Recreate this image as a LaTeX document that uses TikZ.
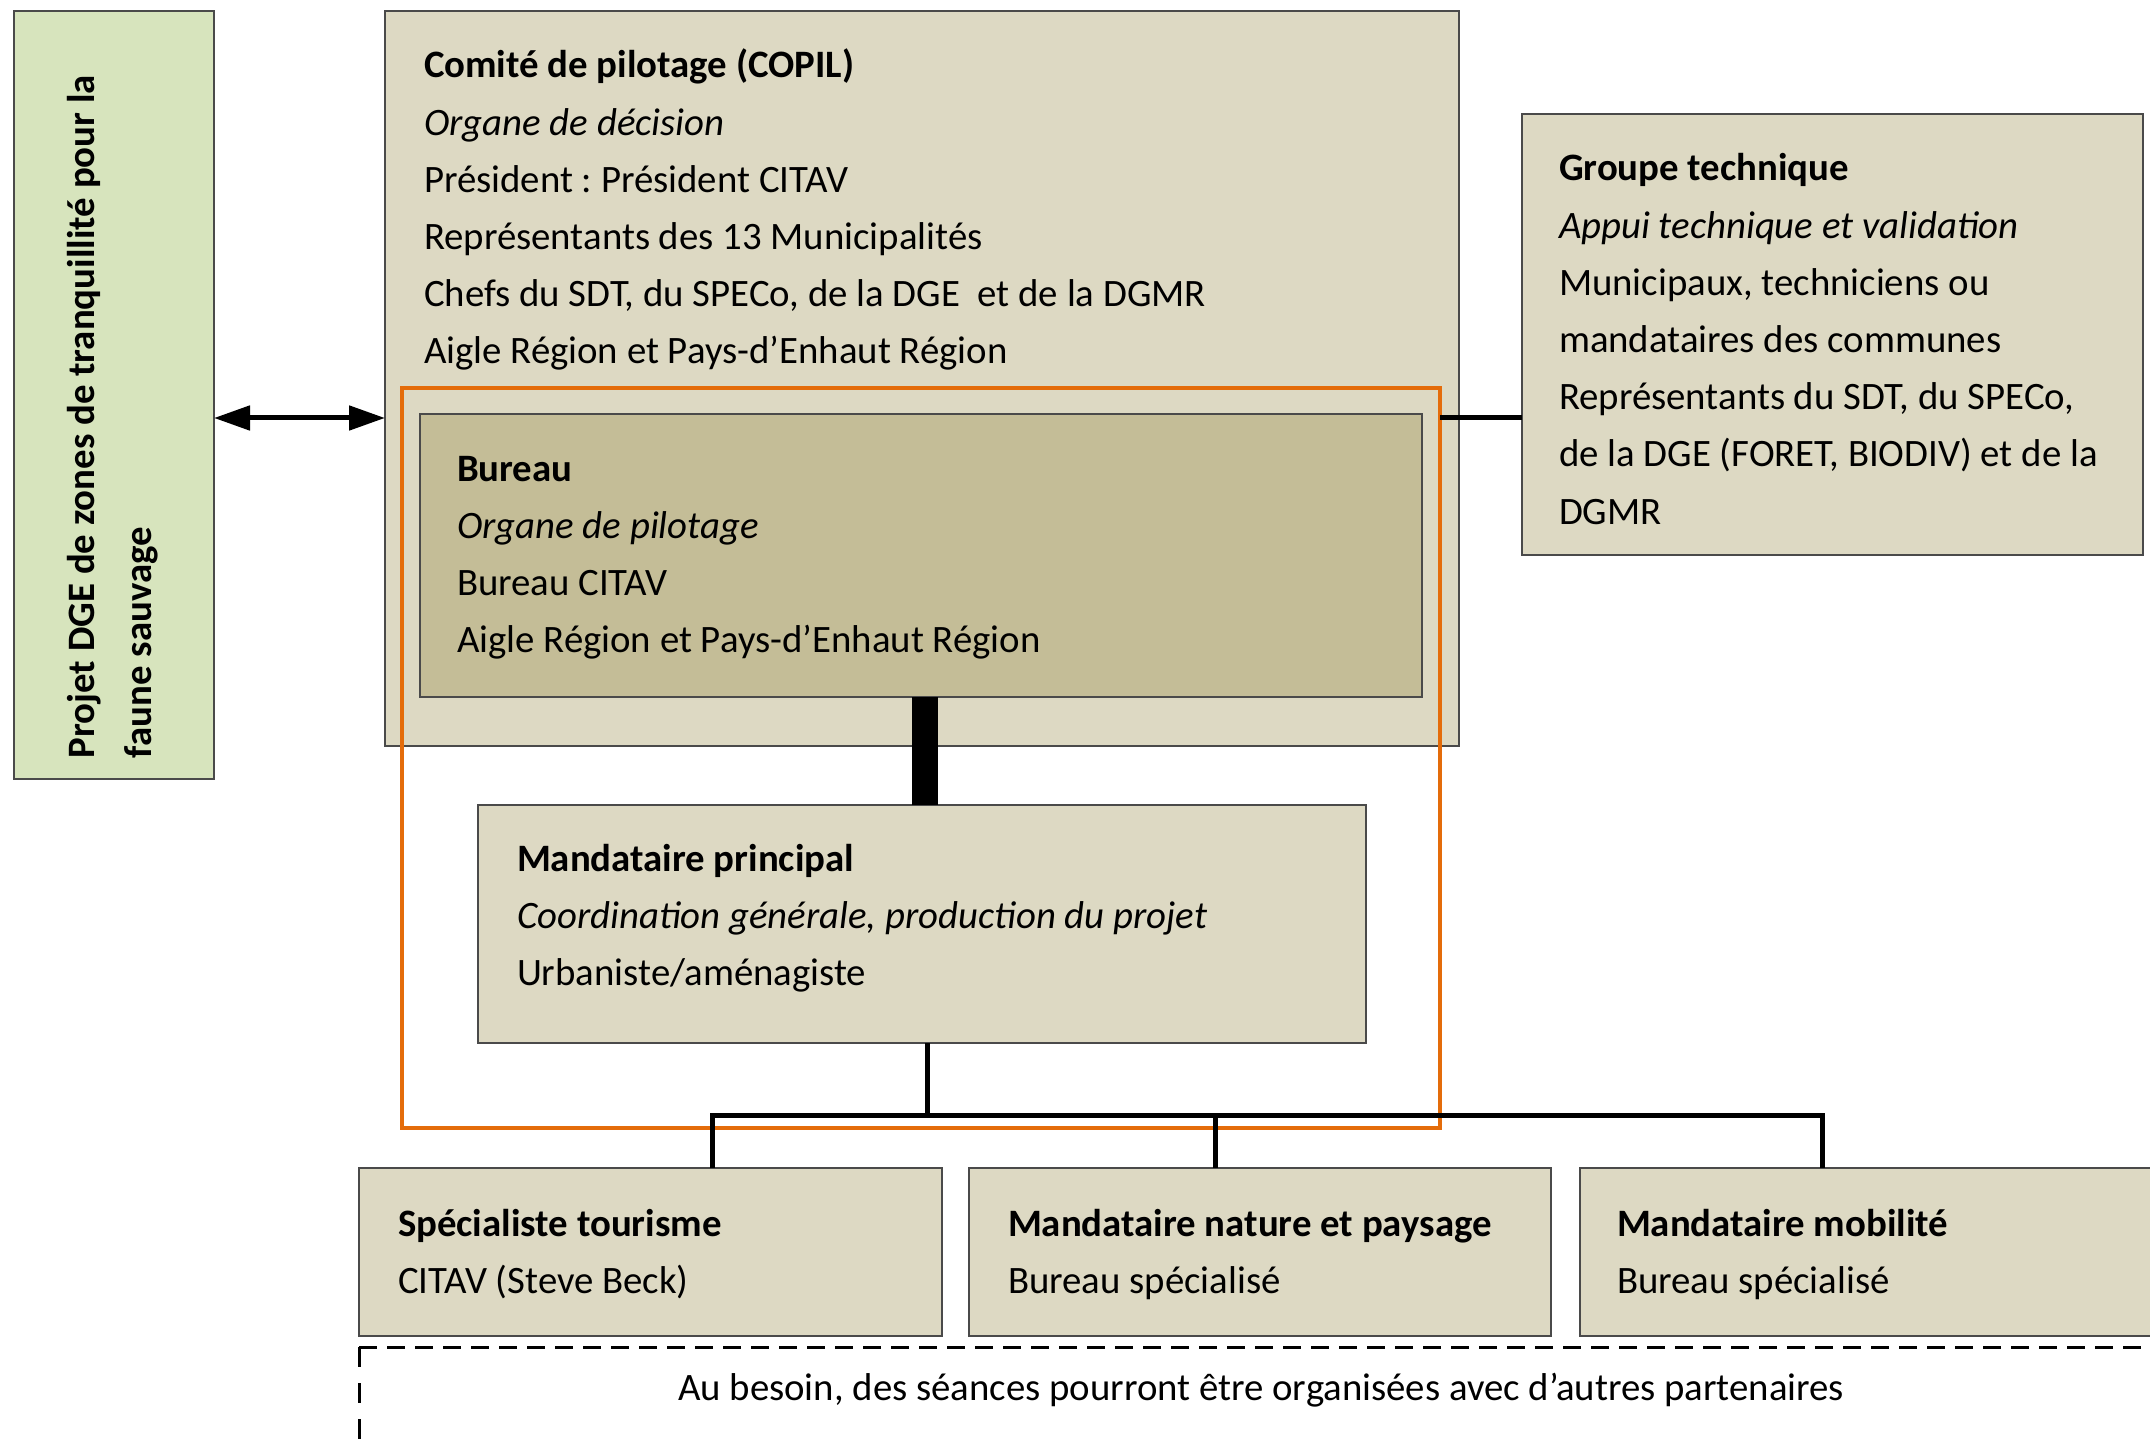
\documentclass[tikz,border=0pt]{standalone}
\usepackage{fontspec}
\setmainfont{Carlito}
\usetikzlibrary{arrows.meta}
\definecolor{grn}{HTML}{D7E4BD}
\definecolor{tanA}{HTML}{DDD9C3}
\definecolor{tanB}{HTML}{C4BD97}
\definecolor{orng}{HTML}{E46C0A}
\definecolor{bord}{HTML}{4A4A4A}
\frenchspacing
\begin{document}
\begin{tikzpicture}[x=0.5pt,y=-0.5pt,
  box/.style={draw=bord, line width=1.3pt, anchor=north west, inner sep=0pt, outer sep=0pt},
  txt/.style={anchor=base west, inner sep=0pt, outer sep=0pt, font=\fontsize{19.4}{28.6}\selectfont\frenchspacing},
  conn/.style={line width=2.5pt, black},
  thick conn/.style={line width=13pt, black},
  dblarrow/.style={{Triangle[length=18pt,width=12pt]}-{Triangle[length=18pt,width=12pt]}},
  dashline/.style={line width=1.5pt, dash pattern=on 9pt off 5pt}]
\useasboundingbox (0,0) rectangle (2150,1443);
\clip (0,0) rectangle (2150,1443);

% boxes
\node[box, fill=grn, minimum width=100pt, minimum height=384pt] (green) at (14,11) {};
\node[box, fill=tanA, minimum width=537pt, minimum height=367.5pt] (copil) at (385,11) {};
\node[box, fill=tanA, minimum width=310.5pt, minimum height=220.5pt] (grp) at (1522,114) {};
\node[box, fill=tanB, minimum width=501pt, minimum height=141.5pt] (bureau) at (420,414) {};
\node[box, fill=tanA, minimum width=444pt, minimum height=119pt] (mp) at (478,805) {};
\node[box, fill=tanA, minimum width=291.5pt, minimum height=84pt] (b1) at (359,1168) {};
\node[box, fill=tanA, minimum width=291pt, minimum height=84pt] (b2) at (969,1168) {};
\node[box, fill=tanA, minimum width=300pt, minimum height=84pt] (b3) at (1580,1168) {};
\node[box, draw=orng, line width=2.4pt, minimum width=519pt, minimum height=370pt] (orange) at (402,388) {};

% texts
\node[txt, rotate=90] (greent) at (94,758) {\parbox[t]{400pt}{\bfseries Projet DGE de zones de tranquillité pour la\\faune sauvage}};
\node[txt] (copilt) at (424,78) {\parbox[t]{500pt}{\textbf{Comité de pilotage (COPIL)}\\\textit{Organe de décision}\\Président : Président CITAV\\Représentants des 13 Municipalités\\Chefs du SDT, du SPECo, de la DGE\ \ et de la DGMR\\Aigle Région et Pays-d’Enhaut Région}};
\node[txt] (grpt) at (1559,181) {\parbox[t]{300pt}{\textbf{Groupe technique}\\\textit{Appui technique et validation}\\Municipaux, techniciens ou\\mandataires des communes\\Représentants du SDT, du SPECo,\\de la DGE (FORET, BIODIV) et de la\\DGMR}};
\node[txt] (bureaut) at (457,481) {\parbox[t]{400pt}{\textbf{Bureau}\\\textit{Organe de pilotage}\\Bureau CITAV\\Aigle Région et Pays-d’Enhaut Région}};
\node[txt] (mpt) at (517,871) {\parbox[t]{400pt}{\textbf{Mandataire principal}\\\textit{Coordination générale, production du projet}\\Urbaniste/aménagiste}};
\node[txt] (b1t) at (398,1236) {\parbox[t]{280pt}{\textbf{Spécialiste tourisme}\\CITAV (Steve Beck)}};
\node[txt] (b2t) at (1008,1236) {\parbox[t]{280pt}{\textbf{Mandataire nature et paysage}\\Bureau spécialisé}};
\node[txt] (b3t) at (1617,1236) {\parbox[t]{280pt}{\textbf{Mandataire mobilité}\\Bureau spécialisé}};
\node[txt, anchor=base] (note) at (1261,1400) {Au besoin, des séances pourront être organisées avec d’autres partenaires};

% helper coordinates
\coordinate (ay) at (0,418);
\coordinate (tx) at (925,0);
\coordinate (tm) at (927,0);
\coordinate (h1) at (712,1115);
\coordinate (h2) at (1215,1115);
\coordinate (h3) at (1822,1115);
\coordinate (d0) at (359,1347);
\coordinate (d1) at (2150,1347);
\coordinate (d2) at (359,1443);

% connectors
\draw[conn, dblarrow] (green.east |- ay) -- (copil.west |- ay);
\draw[conn] (orange.east |- ay) -- (grp.west |- ay);
\draw[thick conn] (bureau.south -| tx) -- (mp.north -| tx);
\draw[conn] (mp.south -| tm) -- (tm |- h1);
\draw[conn] (h1 |- b1.north) -- (h1) -- (h3) -- (h3 |- b3.north);
\draw[conn] (h2) -- (h2 |- b2.north);
\draw[dashline] (d0) -- (d1);
\draw[line width=1.5pt, dash pattern=on 10pt off 8pt] (d0) -- (d2);
\end{tikzpicture}
\end{document}
